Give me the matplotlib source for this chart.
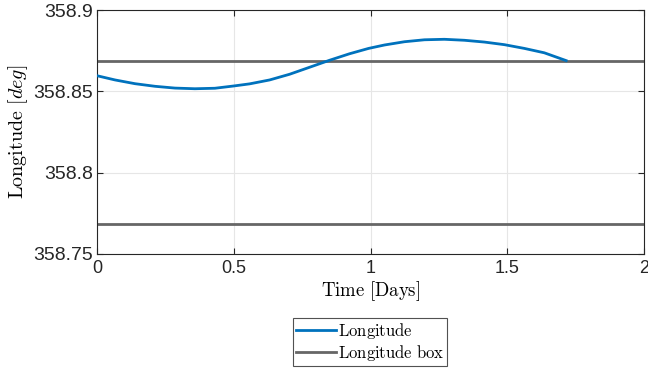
import numpy as np
import matplotlib
matplotlib.use("Agg")
import matplotlib.pyplot as plt

# longitude history over the station-keeping window
time_days = [0.0, 0.066, 0.139, 0.212, 0.285, 0.358, 0.431, 0.5, 0.558,
             0.631, 0.704, 0.777, 0.85, 0.923, 0.993, 1.051, 1.124, 1.197,
             1.27, 1.343, 1.416, 1.489, 1.562, 1.635, 1.715]
longitude = [358.8596, 358.8570, 358.8547, 358.8531, 358.8520, 358.8516,
             358.8519, 358.8533, 358.8546, 358.8570, 358.8605, 358.8648,
             358.8691, 358.8731, 358.8764, 358.8785, 358.8805, 358.8817,
             358.8820, 358.8814, 358.8803, 358.8787, 358.8764, 358.8737,
             358.8689]

# box limits
box_upper = 358.8687
box_lower = 358.7687
time_limits = [0, 2]

plt.rcParams['mathtext.fontset'] = 'cm'
plt.rcParams['font.family'] = ['Liberation Sans', 'DejaVu Sans']

fig = plt.figure(figsize=(6.48, 3.71), dpi=100)
ax = fig.add_axes([0.1497, 0.3154, 0.9940 - 0.1497, 0.973 - 0.3154])

ax.plot(time_days, longitude, color='#0072BD', lw=2.0, label=r'$\mathrm{Longitude}$', zorder=3)
ax.plot(time_limits, [box_upper, box_upper], color='#666666', lw=2.0,
        label=r'$\mathrm{Longitude\ box}$', zorder=2)
ax.plot(time_limits, [box_lower, box_lower], color='#666666', lw=2.0, zorder=2)

ax.set_xlim(0, 2)
ax.set_ylim(358.75, 358.9)
ax.set_xticks([0, 0.5, 1, 1.5, 2])
ax.set_xticklabels(['0', '0.5', '1', '1.5', '2'])
ax.set_yticks([358.75, 358.8, 358.85, 358.9])
ax.set_yticklabels(['358.75', '358.8', '358.85', '358.9'])

ax.grid(True, color='#e6e6e6', lw=0.8)
ax.set_axisbelow(True)
ax.tick_params(direction='in', top=True, right=True, length=4, width=0.8,
               colors='#262626', pad=4)
ax.tick_params(axis='x', labelsize=13)
ax.tick_params(axis='y', labelsize=14, pad=3)
for s in ax.spines.values():
    s.set_color('#262626')
    s.set_linewidth(0.8)

ax.set_xlabel(r'$\mathrm{Time\ [Days]}$', fontsize=13.5, labelpad=2)
ax.set_ylabel(r'$\mathrm{Longitude}\ [deg]$', fontsize=14.5, labelpad=2)

leg = fig.legend(loc='upper center', bbox_to_anchor=(0.571, 0.143),
                 fontsize=12, frameon=True, fancybox=False, edgecolor='#262626',
                 handlelength=2.4, handletextpad=0.1, borderpad=0.2,
                 labelspacing=0.1, borderaxespad=0)
leg.get_frame().set_linewidth(0.8)

fig.savefig('out.png', dpi=100)
